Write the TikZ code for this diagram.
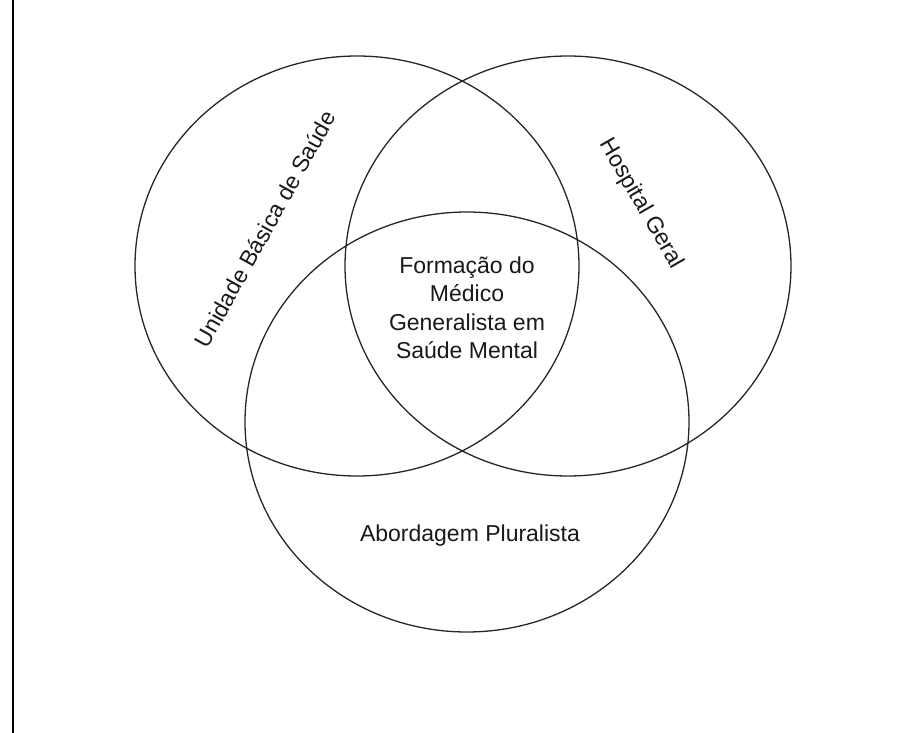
\documentclass[tikz,border=0pt]{standalone}
\usepackage{fontspec}
\setmainfont{Liberation Sans}
\tikzset{
  rotulo/.style={font=\fontsize{23}{28.5}\selectfont, align=center, inner sep=0pt, text=black!90},
  contorno/.style={line width=1.3pt, draw=black!85}
}
\begin{document}
\begin{tikzpicture}[x=1pt,y=-1pt]
                \useasboundingbox ( 0, 0 ) rectangle ( 897, 733 );

% borda
                \draw [line width=1.4pt] ( 13, 0 ) -- ( 13, 733 );

% elipses
                \draw [contorno] ( 357, 266 ) ellipse [x radius=222, y radius=210];
                \draw [contorno] ( 568, 266 ) ellipse [x radius=223, y radius=210];
                \draw [contorno] ( 467, 422 ) ellipse [x radius=222, y radius=210];

% rotulos
                \node [rotulo, rotate=61] (ubs) at ( 265, 229 ) {Unidade Básica de Saúde};
                \node [rotulo, rotate=-60] (hospital) at ( 641, 204 ) {Hospital Geral};
                \node [rotulo] (formacao) at ( 467, 308 ) {Formação do\\Médico\\Generalista em\\Saúde Mental};
                \node [rotulo] (abordagem) at ( 470, 536 ) {Abordagem Pluralista};
            \end{tikzpicture}
\end{document}
